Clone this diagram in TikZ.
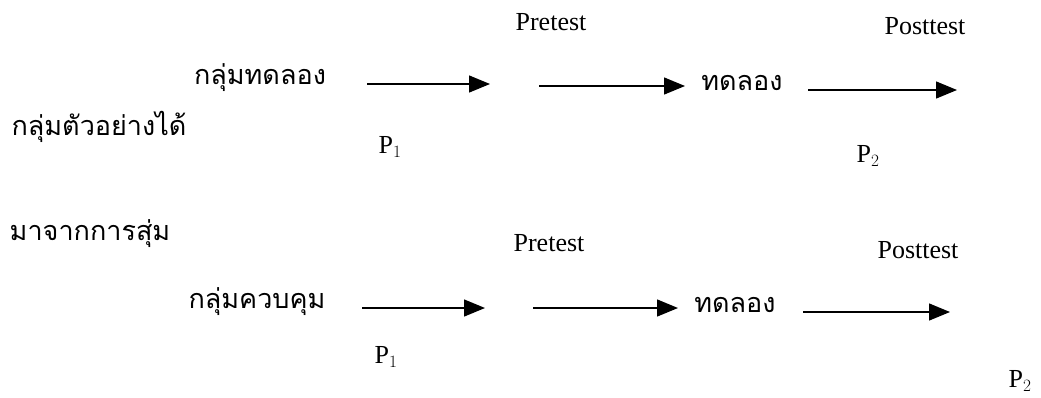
\documentclass[tikz,border=0pt]{standalone}
\usepackage{fontspec}
\setmainfont{Liberation Serif}
\newfontfamily\thaifont[Script=Thai]{Loma}
\usetikzlibrary{arrows.meta}
\begin{document}
\begin{tikzpicture}[x=1pt,y=-1pt,
  thai/.style={inner sep=0pt,font=\thaifont\fontsize{27}{30}\selectfont},
  lat/.style={inner sep=0pt,font=\fontsize{26}{30}\selectfont},
  flow/.style={line width=1.4pt,-{Triangle[length=21pt,width=17pt]}}]
\useasboundingbox (0,0) rectangle (1041,397);
% row 1
\node[lat] (pre1) at (551,22) {Pretest};
\node[lat] (post1) at (925,26) {Posttest};
\node[thai] (g1) at (260,78) {กลุ่มทดลอง};
\node[thai] (t1) at (742,83) {ทดลอง};
\node[thai] (s1) at (99,127) {กลุ่มตัวอย่างได้};
\node[lat] (p11) at (390,147) {P$_{1}$};
\node[lat] (p21) at (868,156) {P$_{2}$};
\coordinate (a1s) at (367,84);
\coordinate (a1e) at (490,84);
\coordinate (a2s) at (539,86);
\coordinate (a2e) at (685,86);
\coordinate (a3s) at (808,90);
\coordinate (a3e) at (957,90);
\draw[flow] (a1s) -- (a1e);
\draw[flow] (a2s) -- (a2e);
\draw[flow] (a3s) -- (a3e);
% row 2
\node[thai] (s2) at (90,234) {มาจากการสุ่ม};
\node[lat] (pre2) at (549,243) {Pretest};
\node[lat] (post2) at (918,250) {Posttest};
\node[thai] (g2) at (257,302) {กลุ่มควบคุม};
\node[thai] (t2) at (735,305) {ทดลอง};
\node[lat] (p12) at (386,357) {P$_{1}$};
\node[lat] (p22) at (1020,381) {P$_{2}$};
\coordinate (b1s) at (362,308);
\coordinate (b1e) at (485,308);
\coordinate (b2s) at (533,308);
\coordinate (b2e) at (678,308);
\coordinate (b3s) at (803,312);
\coordinate (b3e) at (950,312);
\draw[flow] (b1s) -- (b1e);
\draw[flow] (b2s) -- (b2e);
\draw[flow] (b3s) -- (b3e);
\end{tikzpicture}
\end{document}
